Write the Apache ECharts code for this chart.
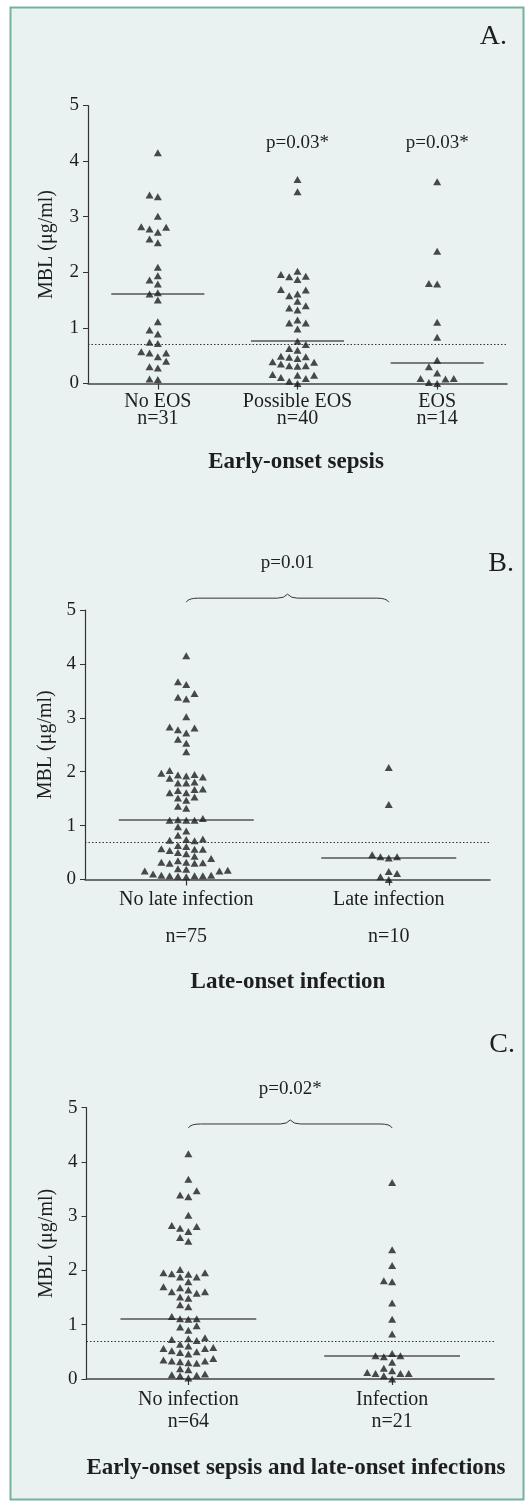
<!DOCTYPE html>
<html>
<head>
<meta charset="utf-8">
<script src="https://cdn.jsdelivr.net/npm/echarts@6/dist/echarts.min.js"></script>
<style>
html,body{margin:0;padding:0;background:#fff;}
#chart{width:532px;height:1508px;}
</style>
</head>
<body>
<div id="chart"></div>
<script>
// ---------------- DATA ----------------
const yTicks = [0, 1, 2, 3, 4, 5];
const cutoff = 0.7;

// Panel A: early-onset sepsis
const catsA = ['No EOS', 'Possible EOS', 'EOS'];
const nA = [31, 40, 14];
const noEOS = [4.15, 3.36, 3.39, 3.01, 2.81, 2.72, 2.78, 2.82, 2.60, 2.53, 2.09, 1.94, 1.86, 1.79, 1.63, 1.61,
  1.50, 1.11, 0.96, 0.89, 0.74, 0.72, 0.57, 0.55, 0.55, 0.48, 0.40, 0.30, 0.28, 0.07, 0.08];
const possibleEOS = [3.67, 3.45, 2.02, 1.96, 1.92, 1.87, 1.93, 1.69, 1.68, 1.61, 1.58, 1.48, 1.40, 1.36, 1.32,
  1.09, 1.14, 1.09, 0.98, 0.76, 0.70, 0.63, 0.60, 0.49, 0.48, 0.45, 0.47, 0.39, 0.38, 0.32, 0.32, 0.31, 0.35,
  0.15, 0.15, 0.11, 0.09, 0.16, 0.04, 0.00];
const eos = [3.63, 2.38, 1.80, 1.79, 1.10, 0.83, 0.42, 0.30, 0.19, 0.09, 0.09, 0.02, 0.08, 0.00];
const mediansA = [1.61, 0.76, 0.37];
const pTextA = ['', 'p=0.03*', 'p=0.03*'];
const titleA = 'Early-onset sepsis';

// Panel B: late-onset infection
const catsB = ['No late infection', 'Late infection'];
const nB = [75, 10];
const noLateInf = [4.15, 3.67, 3.62, 3.45, 3.38, 3.35, 3.02, 2.83, 2.81, 2.78, 2.72, 2.60, 2.53, 2.37,
  2.02, 1.97, 1.95, 1.94, 1.92, 1.90, 1.88, 1.81, 1.79, 1.79, 1.68, 1.67, 1.65, 1.61, 1.61, 1.53, 1.51, 1.47,
  1.36, 1.32, 1.13, 1.11, 1.10, 1.10, 1.10, 0.98, 0.90, 0.82, 0.75, 0.74, 0.73, 0.72,
  0.63, 0.61, 0.57, 0.56, 0.56, 0.54, 0.50, 0.48, 0.43, 0.39, 0.35, 0.32, 0.32, 0.31, 0.30, 0.30,
  0.20, 0.19, 0.17, 0.16, 0.16, 0.10, 0.08, 0.08, 0.07, 0.07, 0.07, 0.06, 0.05];
const lateInf = [2.08, 1.39, 0.46, 0.42, 0.40, 0.42, 0.15, 0.11, 0.05, 0.00];
const mediansB = [1.10, 0.41];
const pTextB = 'p=0.01';
const titleB = 'Late-onset infection';

// Panel C: early-onset sepsis and late-onset infections
const catsC = ['No infection', 'Infection'];
const nC = [64, 21];
const noInf = [4.15, 3.68, 3.47, 3.36, 3.39, 3.02, 2.81, 2.72, 2.78, 2.83, 2.61, 2.54,
  2.02, 1.96, 1.93, 1.88, 1.88, 1.94, 1.96, 1.79, 1.64, 1.70, 1.61, 1.68, 1.58, 1.49, 1.51, 1.61, 1.37, 1.33,
  1.11, 1.10, 1.11, 1.15, 0.96, 0.90, 0.98, 0.74, 0.71, 0.73, 0.76,
  0.64, 0.58, 0.56, 0.49, 0.46, 0.50, 0.52, 0.56, 0.61,
  0.33, 0.29, 0.35, 0.38, 0.32, 0.30, 0.33, 0.19, 0.09, 0.08, 0.17, 0.07, 0.06, 0.02];
const inf = [3.62, 2.38, 2.09, 1.79, 1.81, 1.40, 1.10, 0.83, 0.43, 0.41, 0.43, 0.47, 0.31,
  0.15, 0.10, 0.10, 0.20, 0.06, 0.10, 0.12, 0.00];
const mediansC = [1.11, 0.43];
const pTextC = 'p=0.02*';
const titleC = 'Early-onset sepsis and late-onset infections';
const yName = 'MBL (\u03bcg/ml)';

// ---------------- LAYOUT / STYLE ----------------
const FONT = '"Liberation Serif", "Times New Roman", serif';
const INK = '#1e1e1e';
const grids = [
  {left: 88, top: 105.5, width: 419, height: 278},
  {left: 85, top: 610, width: 405, height: 269.5},
  {left: 86.5, top: 1107.7, width: 407.5, height: 271.3}
];
const SLOT_PX = 8.3, COLLIDE_PX = 7;

function swarm(groups, g) {
  const nCat = groups.length;
  const xPx = g.width / nCat, yPx = g.height / 5;
  const out = [];
  groups.forEach((vals, ci) => {
    const placed = [];
    const sorted = vals.slice().sort((a, b) => a - b);
    sorted.forEach(v => {
      const order = [0, -1, 1, -2, 2, -3, 3, -4, 4, -5, 5];
      let slot = 0;
      for (const s of order) {
        const hit = placed.some(p => p.s === s && Math.abs(p.v - v) * yPx < COLLIDE_PX);
        if (!hit) { slot = s; break; }
      }
      placed.push({s: slot, v: v});
      out.push([ci + slot * SLOT_PX / xPx, v]);
    });
  });
  return out;
}

function catLabels(cats, ns, gap) {
  return cats.map((c, i) => c + gap + 'n=' + ns[i]);
}

function panelAxes(gi, cats, ns, gap, margin, lh, nameGap) {
  const x = [{
    gridIndex: gi, type: 'category', data: catLabels(cats, ns, gap), boundaryGap: true,
    axisLine: {show: true, onZero: false, lineStyle: {color: '#444', width: 1.5}},
    axisTick: {show: true, alignWithLabel: true, length: 6, interval: 0, lineStyle: {color: '#333', width: 1.2}},
    axisLabel: {interval: 0, margin: margin, lineHeight: lh, fontFamily: FONT, fontSize: 20, color: INK},
    splitLine: {show: false}
  }, {
    gridIndex: gi, type: 'value', min: -0.5, max: cats.length - 0.5, show: false
  }];
  const y = {
    gridIndex: gi, type: 'value', min: yTicks[0], max: yTicks[yTicks.length - 1], interval: 1,
    axisLine: {show: true, onZero: false, lineStyle: {color: '#333', width: 1.2}},
    axisTick: {show: true, length: 5, lineStyle: {color: '#333'}},
    axisLabel: {margin: 9, fontFamily: FONT, fontSize: 19, color: INK},
    splitLine: {show: false},
    name: yName, nameLocation: 'middle', nameRotate: 90, nameGap: nameGap,
    nameTextStyle: {fontFamily: FONT, fontSize: 20, color: INK}
  };
  return {x, y};
}

function scatterSeries(gi, groups, medians) {
  const ml = [{yAxis: cutoff, lineStyle: {type: [1.5, 2], color: '#333', width: 1}}];
  medians.forEach((m, i) => {
    ml.push([{coord: [i - 1 / 3, m], lineStyle: {type: 'solid', color: '#555', width: 1.6}}, {coord: [i + 1 / 3, m]}]);
  });
  return {
    type: 'scatter', xAxisIndex: gi * 2 + 1, yAxisIndex: gi,
    data: swarm(groups, grids[gi]),
    symbol: 'triangle', symbolSize: [8, 7],
    itemStyle: {color: INK},
    silent: true, z: 3,
    markLine: {silent: true, symbol: 'none', label: {show: false}, animation: false, data: ml, z: 2}
  };
}

function annotSeries(gi, items) {
  return {
    type: 'custom', xAxisIndex: gi * 2 + 1, yAxisIndex: gi, silent: true, clip: false, z: 4,
    data: items.map(it => [(it.x1 + it.x2) / 2, it.yText]),
    renderItem: function (params, api) {
      const it = items[params.dataIndex];
      const children = [];
      const tp = api.coord([(it.x1 + it.x2) / 2, it.yText]);
      children.push({type: 'text', style: {text: it.text, x: tp[0], y: tp[1], font: '19px ' + FONT,
        fill: INK, align: 'center', verticalAlign: 'middle'}});
      if (it.brace) {
        const a = api.coord([it.x1, it.yBrace]);
        const b = api.coord([it.x2, it.yBrace]);
        const y = a[1], m = (a[0] + b[0]) / 2;
        const d = 'M' + a[0] + ' ' + (y + 4) + ' Q' + (a[0] + 2) + ' ' + y + ' ' + (a[0] + 12) + ' ' + y +
          ' L' + (m - 10) + ' ' + y + ' Q' + (m - 3) + ' ' + y + ' ' + m + ' ' + (y - 4) +
          ' Q' + (m + 3) + ' ' + y + ' ' + (m + 10) + ' ' + y +
          ' L' + (b[0] - 12) + ' ' + y + ' Q' + (b[0] - 2) + ' ' + y + ' ' + b[0] + ' ' + (y + 4);
        children.push({type: 'path', shape: {pathData: d}, style: {stroke: '#333', fill: null, lineWidth: 1}});
      }
      return {type: 'group', children: children};
    }
  };
}

const axA = panelAxes(0, catsA, nA, '\n', 10, 17, 31);
const axB = panelAxes(1, catsB, nB, '\n\n', 11, 18.5, 28.5);
const axC = panelAxes(2, catsC, nC, '\n', 10, 21.7, 29.5);

const annA = [];
pTextA.forEach((t, i) => { if (t) annA.push({x1: i, x2: i, yText: 4.32, text: t, brace: false}); });
const annB = [{x1: 0, x2: 1, yBrace: 5.22, yText: 5.87, text: pTextB, brace: true}];
const annC = [{x1: 0, x2: 1, yBrace: 4.70, yText: 5.34, text: pTextC, brace: true}];

function txt(text, x, y, size, bold, align) {
  return {type: 'text', x: x, y: y, silent: true, z: 10,
    style: {text: text, font: (bold ? 'bold ' : '') + size + 'px ' + FONT, fill: INK,
      align: align || 'center', verticalAlign: 'middle'}};
}

const option = {
  animation: false,
  backgroundColor: '#ffffff',
  grid: grids.map(g => Object.assign({containLabel: false}, g)),
  xAxis: [].concat(axA.x, axB.x, axC.x),
  yAxis: [axA.y, axB.y, axC.y],
  graphic: [
    {type: 'rect', shape: {x: 10.5, y: 7.5, width: 513, height: 1492}, z: -10, silent: true,
      style: {fill: '#e9f2f1', stroke: '#78b09f', lineWidth: 2}},
    txt('A.', 507, 37, 28, false, 'right'),
    txt('B.', 514, 564, 28, false, 'right'),
    txt('C.', 515, 1045, 28, false, 'right'),
    txt(titleA, 296, 462, 23, true),
    txt(titleB, 288, 982, 23, true),
    txt(titleC, 296, 1468, 23, true)
  ],
  series: [
    scatterSeries(0, [noEOS, possibleEOS, eos], mediansA),
    scatterSeries(1, [noLateInf, lateInf], mediansB),
    scatterSeries(2, [noInf, inf], mediansC),
    annotSeries(0, annA),
    annotSeries(1, annB),
    annotSeries(2, annC)
  ]
};

const chart = echarts.init(document.getElementById('chart'), null, {renderer: 'canvas'});
chart.setOption(option);
</script>
</body>
</html>
